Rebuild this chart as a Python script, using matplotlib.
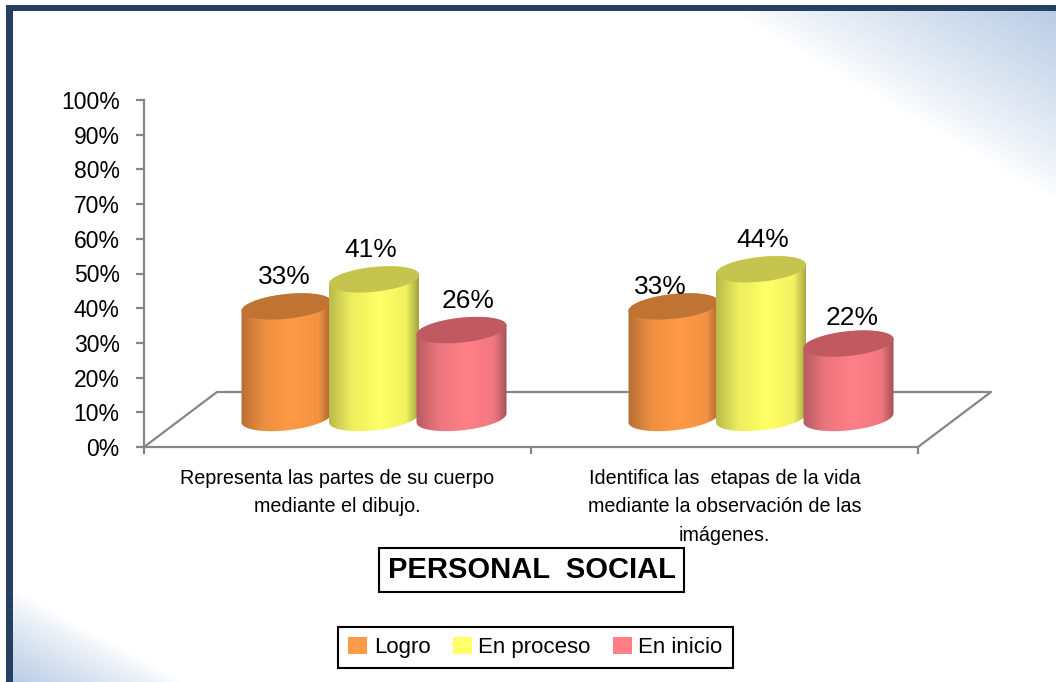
"""Personal social chart: 3D-looking cylinders drawn on a flat percent axis."""

import matplotlib
matplotlib.use("Agg")
import matplotlib.pyplot as plt
import numpy as np
from matplotlib.colors import LinearSegmentedColormap, to_rgb
from matplotlib.lines import Line2D
from matplotlib.patches import Patch, Polygon

CATEGORIES = [
    "Representa las partes de su cuerpo\nmediante el dibujo.",
    "Identifica las  etapas de la vida\nmediante la observación de las\nimágenes.",
]
SERIES = ["Logro", "En proceso", "En inicio"]
LOGRO = [33, 33]
EN_PROCESO = [41, 44]
EN_INICIO = [26, 22]
Y_TICKS = list(range(0, 101, 10))
TITLE = "PERSONAL  SOCIAL"

BODY = ["#FF9A46", "#FFFF66", "#FF7F87"]
CAP = ["#BF7433", "#C4C44E", "#C05A60"]
# label nudges in px, per group then series
NUDGE = [[(-2, 0), (-3, 0), (7, 0)], [(-13, -10), (2, 0), (4, -3)]]

W, H = 1056, 682
FONT = ["Liberation Sans", "DejaVu Sans"]
PX_X = 387.0   # px per x unit
PX_Y = 3.47    # px per percent
DEPTH_X, DEPTH_Y = 73 / PX_X, 55 / PX_Y
HEIGHT_SCALE = 3.38 / PX_Y
AXIS_GREY = "#868686"


def ell(cx, cy, t):
    a, b, s = 45 / PX_X, 12.4 / PX_Y, 4.5 / PX_Y
    return cx + a * np.cos(t), cy + s * np.cos(t) + b * np.sin(t)


def cylinder(ax, cx, base, val, color, cap, z):
    top = base + val * HEIGHT_SCALE
    t_low = np.linspace(np.pi, 2 * np.pi, 60)
    t_up = np.linspace(0, np.pi, 60)
    xb, yb = ell(cx, base, t_low)
    xt, yt = ell(cx, top, t_up)
    verts = np.column_stack([np.r_[xb, xt], np.r_[yb, yt]])
    body = Polygon(verts, closed=True, fc="none", ec="none", zorder=z)
    ax.add_patch(body)
    c = np.array(to_rgb(color))
    cmap = LinearSegmentedColormap.from_list("b", [
        (0.0, c * 0.72), (0.25, c * 0.93), (0.55, c), (0.85, c * 0.95), (1.0, c * 0.62)])
    im = ax.imshow(np.linspace(0, 1, 128)[None, :], cmap=cmap, aspect="auto", zorder=z,
                   extent=(cx - 46 / PX_X, cx + 46 / PX_X, base - 16 / PX_Y, top + 16 / PX_Y))
    im.set_clip_path(body)
    xc, yc = ell(cx, top, np.linspace(0, 2 * np.pi, 120))
    ax.add_patch(Polygon(np.column_stack([xc, yc]), closed=True, fc=cap, ec="none", zorder=z + 0.1))
    return top


def background(fig):
    bg = fig.add_axes([0, 0, 1, 1], zorder=-5)
    bg.set_xlim(0, W)
    bg.set_ylim(H, 0)
    bg.axis("off")
    xx, yy = np.meshgrid(np.arange(W) + 0.5, np.arange(H) + 0.5)
    # top right corner
    d1 = ((xx - 730) * 189 - (yy - 11) * 326) / 377 / 163
    # bottom left corner
    d2 = (-(xx - 11) * 94 + (yy - 588) * 173) / 197 / 82
    amt = np.clip(np.maximum(d1, d2), 0, 1)[..., None] ** 0.85
    corner = np.array(to_rgb("#BACDE5"))
    bg.imshow(1 - amt * (1 - corner), extent=(0, W, H, 0), aspect="auto", zorder=0)
    bg.fill_between([0, W], 0, 5, color="white", lw=0, zorder=1)
    bg.fill_between([0, 6], 0, H, color="white", lw=0, zorder=1)
    bg.fill_between([6, W], 5, 11, color="#254061", lw=0, zorder=2)
    bg.fill_between([6, 13], 5, H, color="#254061", lw=0, zorder=2)


def main():
    plt.rcParams["font.family"] = FONT
    fig = plt.figure(figsize=(W / 100, H / 100), dpi=100, facecolor="white")
    background(fig)

    ax = fig.add_axes([144 / W, 1 - 447 / H, 774 / W, 347 / H])
    ax.patch.set_alpha(0)
    for side in ["top", "right"]:
        ax.spines[side].set_visible(False)
    for side in ["left", "bottom"]:
        ax.spines[side].set_color(AXIS_GREY)
        ax.spines[side].set_linewidth(1.6)

    # floor
    ax.add_line(Line2D([0, DEPTH_X, 2 + DEPTH_X, 2], [0, DEPTH_Y, DEPTH_Y, 0],
                       color=AXIS_GREY, lw=1.6, clip_on=False, zorder=1))

    values = [LOGRO, EN_PROCESO, EN_INICIO]
    step = 87.5 / PX_X
    for g in range(len(CATEGORIES)):
        for s, vals in enumerate(values):
            cx = g + 0.5 + DEPTH_X / 2 + (s - 1) * step
            top = cylinder(ax, cx, DEPTH_Y / 2 + 0.44, vals[g], BODY[s], CAP[s], 3 + s)
            nx, ny = NUDGE[g][s]
            ax.annotate(f"{vals[g]}%", (cx, top), xytext=(nx * 0.72, (29 + ny) * 0.72),
                        textcoords="offset points", ha="center", va="center",
                        fontsize=19, color="black", zorder=10, annotation_clip=False)

    ax.set_xlim(0, 2)
    ax.set_ylim(0, 100)
    ax.set_yticks(Y_TICKS)
    ax.set_yticklabels([f"{v}%" for v in Y_TICKS], fontsize=16.5)
    ax.tick_params(axis="y", color=AXIS_GREY, length=5.5, width=1.6, pad=12)
    ax.set_xticks([0, 1, 2])
    ax.set_xticklabels([])
    ax.tick_params(axis="x", which="major", color=AXIS_GREY, length=5, width=1.6)
    ax.set_xticks([0.5, 1.5], minor=True)
    ax.set_xticklabels(CATEGORIES, minor=True, fontsize=14.2, linespacing=1.65)
    ax.tick_params(axis="x", which="minor", length=0, pad=15.5)

    fig.text(531.5 / W, 1 - 570 / H, TITLE, ha="center", va="center", fontsize=21,
             fontweight="bold", family="Liberation Sans",
             bbox=dict(boxstyle="square,pad=0.28", fc="white", ec="black", lw=1.5))

    handles = [Patch(fc=c, ec="none") for c in BODY]
    leg = fig.legend(handles, SERIES, ncols=3, loc="center", fontsize=16,
                     bbox_to_anchor=(535.5 / W, 1 - 647.5 / H), bbox_transform=fig.transFigure,
                     fancybox=False, framealpha=1, edgecolor="black",
                     handlelength=0.85, handleheight=0.85, handletextpad=0.3,
                     columnspacing=1.0, borderpad=0.45, borderaxespad=0)
    leg.get_frame().set_linewidth(1.5)

    fig.savefig("out.png", dpi=100)


if __name__ == "__main__":
    main()
